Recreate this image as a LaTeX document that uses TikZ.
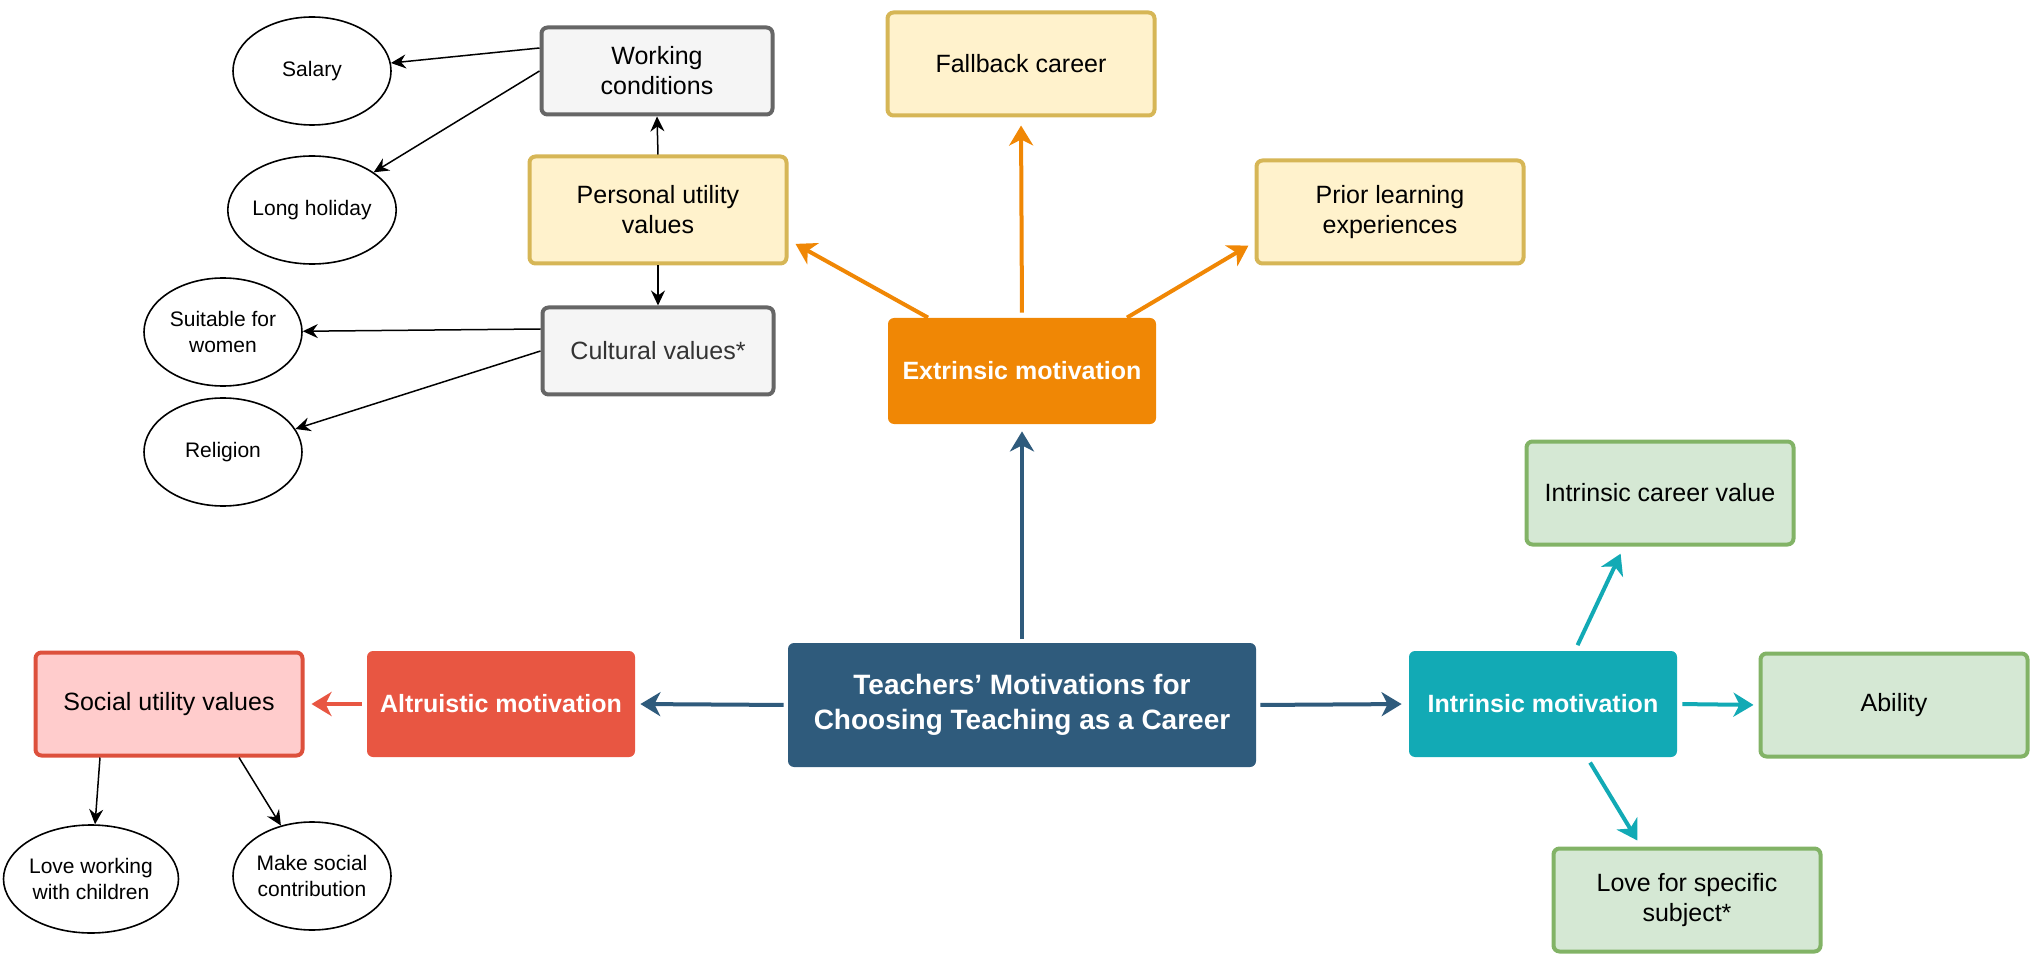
\documentclass[tikz,border=0pt]{standalone}
\usepackage{fontspec}
\setmainfont{Liberation Sans}
\definecolor{mainblue}{RGB}{47, 91, 124}
\definecolor{extorange}{RGB}{240, 135, 5}
\definecolor{altred}{RGB}{232, 86, 66}
\definecolor{intteal}{RGB}{18, 170, 181}
\definecolor{yelfill}{RGB}{255, 242, 204}
\definecolor{yelline}{RGB}{214, 182, 86}
\definecolor{grayfill}{RGB}{245, 245, 245}
\definecolor{grayline}{RGB}{102, 102, 102}
\definecolor{redfill}{RGB}{255, 204, 204}
\definecolor{redline}{RGB}{221, 80, 60}
\definecolor{greenfill}{RGB}{213, 232, 212}
\definecolor{greenline}{RGB}{130, 179, 102}
\usetikzlibrary{shapes.geometric, arrows.meta}

\begin{document}
\begin{tikzpicture}[x=0.5pt, y=-0.5pt,
  box/.style={rounded corners=3pt, line width=2pt, minimum width=133.5pt, minimum height=51.5pt,
    align=center, inner sep=2pt, font=\fontsize{12.5}{15}\selectfont},
  motive/.style={fill=#1, rounded corners=3pt, minimum width=134pt, minimum height=53pt,
    align=center, text=white, font=\bfseries\fontsize{12.5}{15}\selectfont},
  bubble/.style={ellipse, draw, line width=0.8pt, minimum width=79pt, minimum height=54pt, inner sep=0pt,
    align=center, font=\fontsize{10.5}{13}\selectfont},
  thinarr/.style={line width=0.75pt, -{Stealth[length=7.5pt, width=7pt, inset=2.5pt]}},
  bigarr/.style={draw=#1, line width=2pt, -{Stealth[length=10pt, width=12pt, inset=3pt]}}
]
  \useasboundingbox (0,0) rectangle (2036,957);

  % centre and the three kinds of motivation
  \node[motive=mainblue, minimum width=234pt, minimum height=62pt, font=\bfseries\fontsize{14}{17.5}\selectfont] (central) at (1022,705)
    {Teachers’ Motivations for\\Choosing Teaching as a Career};
  \node[motive=extorange] (extr) at (1022,371) {Extrinsic motivation};
  \node[motive=altred] (altr) at (501,704) {Altruistic motivation};
  \node[motive=intteal] (intr) at (1543,704) {Intrinsic motivation};

  % extrinsic side
  \node[box, draw=yelline, fill=yelfill] (fallback) at (1021,64) {Fallback career};
  \node[box, draw=yelline, fill=yelfill] (prior) at (1390,212) {Prior learning\\experiences};
  \node[box, draw=yelline, fill=yelfill, minimum width=128.5pt, minimum height=53.5pt] (puv) at (658,210) {Personal utility\\values};
  \node[box, draw=grayline, fill=grayfill, minimum width=115.5pt, minimum height=43.5pt] (wc) at (657,71) {Working\\conditions};
  \node[box, draw=grayline, fill=grayfill, minimum width=115.5pt, minimum height=43.5pt, text=black!80] (cv) at (658,351) {Cultural values*};
  \node[bubble] (salary) at (312,71) {Salary};
  \node[bubble] (lh) at (312,210) {Long holiday};
  \node[bubble] (suit) at (223,332) {Suitable for\\women};
  \node[bubble] (relig) at (223,452) {Religion};

  % altruistic side
  \node[box, draw=redline, fill=redfill] (social) at (169,704) {Social utility values};
  \node[bubble] (lwc) at (91,879) {Love working\\with children};
  \node[bubble] (msc) at (312,876) {Make social\\contribution};

  % intrinsic side
  \node[box, draw=greenline, fill=greenfill] (icv) at (1660,493) {Intrinsic career value};
  \node[box, draw=greenline, fill=greenfill] (ability) at (1894,705) {Ability};
  \node[box, draw=greenline, fill=greenfill] (lfs) at (1687,900) {Love for specific\\subject*};

  % connectors
  \draw[bigarr=mainblue, shorten <=2pt, shorten >=3.5pt] (central.north) -- (extr.south);
  \draw[bigarr=mainblue, shorten <=2pt, shorten >=2.5pt] (central.west) -- (altr.east);
  \draw[bigarr=mainblue, shorten <=2pt, shorten >=3.5pt] (central.east) -- (intr.west);

  \draw[bigarr=extorange, shorten >=4pt] ([xshift=-47pt]extr.north) -- ([yshift=-15pt]puv.east);
  \draw[bigarr=extorange, shorten <=2.5pt, shorten >=4pt] (extr.north) -- (fallback.south);
  \draw[bigarr=extorange, shorten >=3.5pt] ([xshift=52.5pt]extr.north) -- ([yshift=-15pt]prior.west);

  \draw[bigarr=altred, shorten <=2.5pt, shorten >=3.5pt] (altr.west) -- (social.east);

  \draw[bigarr=intteal, shorten <=3pt, shorten >=4pt] ([xshift=16pt]intr.north) -- ([xshift=-18pt]icv.south);
  \draw[bigarr=intteal, shorten <=2.5pt, shorten >=2.5pt] (intr.east) -- (ability.west);
  \draw[bigarr=intteal, shorten <=3pt, shorten >=3.5pt] ([xshift=22pt]intr.south) -- ([xshift=-23pt]lfs.north);

  \draw[thinarr] (puv.north) -- (wc.south);
  \draw[thinarr] (puv.south) -- (cv.north);
  \draw[thinarr] ([yshift=11.5pt]wc.west) -- (salary);
  \draw[thinarr] (wc.west) -- (lh);
  \draw[thinarr] ([yshift=11pt]cv.west) -- (suit);
  \draw[thinarr] (cv.west) -- (relig);
  \draw[thinarr] ([xshift=-34.5pt]social.south) -- (lwc);
  \draw[thinarr] ([xshift=35pt]social.south) -- (msc);
\end{tikzpicture}
\end{document}
